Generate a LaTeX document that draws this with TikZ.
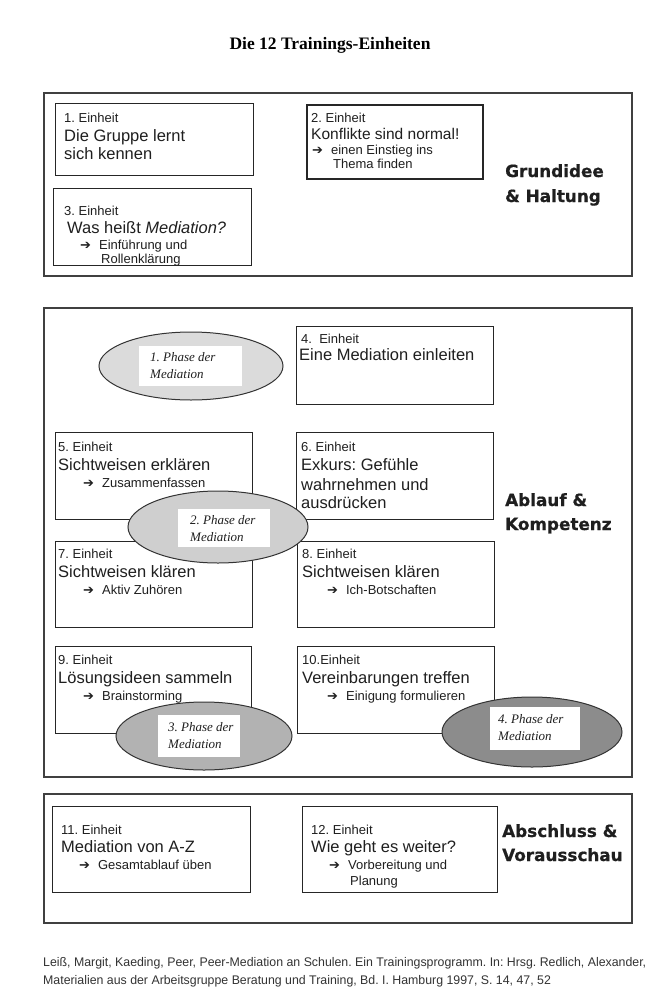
\documentclass[tikz,border=0pt]{standalone}
\usepackage{fontspec}
\usepackage{graphicx}
\setmainfont{Liberation Sans}
\newfontfamily\serifrm{Liberation Serif}
\newfontfamily\djv{DejaVu Sans}
\newfontfamily\heavy[BoldFeatures={FakeBold=0.6}]{DejaVu Sans}
\usetikzlibrary{shapes.geometric}
\frenchspacing
\newcommand\tl[4]{\node[txt,#1] (#2) at (#3) {#4};}
\newcommand\arr{{\djv\fontsize{13}{15}\selectfont ➔}\hspace{8pt}}
\tikzset{
  txt/.style={anchor=base west, inner sep=0pt, text=black!88},
  sm/.style={font=\fontsize{13}{15}\selectfont},
  bg/.style={font=\fontsize{16.5}{19}\selectfont},
  md/.style={font=\fontsize{15.5}{18}\selectfont},
  ph/.style={font=\serifrm\itshape\fontsize{13}{15}\selectfont},
  sect/.style={font=\heavy\bfseries\fontsize{16.8}{19}\selectfont},
  frame/.style={draw=black!75, line width=1.6pt, anchor=north west, inner sep=0pt},
  unitbox/.style={draw=black!85, line width=1.1pt, anchor=north west, inner sep=0pt},
  phase/.style={ellipse, draw=black!80, line width=1pt, inner sep=0pt},
  wbox/.style={fill=white, anchor=north west, inner sep=0pt},
}
\begin{document}
\begin{tikzpicture}[x=1pt,y=-1pt]
\useasboundingbox (0,0) rectangle (659,999);
\fill[white] (0,0) rectangle (659,999);

\node[font=\serifrm\bfseries\fontsize{17.5}{20}\selectfont] (title) at (330,45) {Die 12 Trainings-Einheiten};

% ---------- Section 1 ----------
\node[frame, minimum width=588pt, minimum height=183pt] (s1) at (43,92) {};
\node[unitbox, minimum width=198pt, minimum height=72pt] (b1) at (55,103) {};
\tl{sm}{b1a}{64,122}{1. Einheit}
\tl{bg}{b1b}{64,141}{Die Gruppe lernt}
\tl{bg}{b1c}{64,159}{sich kennen}

\node[unitbox, minimum width=198pt, minimum height=77pt] (b3) at (53,188) {};
\tl{sm}{b3a}{64,215}{3. Einheit}
\tl{bg}{b3b}{67,233}{Was heißt \textit{Mediation?}}
\tl{sm}{b3c}{80,249}{\arr Einführung und}
\tl{sm}{b3d}{101,263}{Rollenklärung}

\node[unitbox, line width=2.2pt, minimum width=176pt, minimum height=74pt] (b2) at (306,104) {};
\tl{sm}{b2a}{311,122}{2. Einheit}
\tl{md}{b2b}{311,139}{Konflikte sind normal!}
\tl{sm}{b2c}{312,154}{\arr einen Einstieg ins}
\tl{sm}{b2d}{333,168}{Thema finden}

\tl{sect}{l1a}{505,177}{Grundidee}
\tl{sect}{l1b}{505,202}{\& Haltung}

% ---------- Section 2 ----------
\node[frame, minimum width=588pt, minimum height=469pt] (s2) at (43,307) {};

\node[unitbox, minimum width=197pt, minimum height=78pt] (b4) at (296,326) {};
\tl{sm}{b4a}{301,343}{4.\ \ Einheit}
\tl{bg}{b4b}{299,360}{Eine Mediation einleiten}

\node[unitbox, minimum width=197pt, minimum height=87pt] (b5) at (55,432) {};
\tl{sm}{b5a}{58,451}{5. Einheit}
\tl{bg}{b5b}{58,470}{Sichtweisen erklären}
\tl{sm}{b5c}{83,487}{\arr Zusammenfassen}

\node[unitbox, minimum width=197pt, minimum height=87pt] (b6) at (296,432) {};
\tl{sm}{b6a}{301,451}{6. Einheit}
\tl{bg}{b6b}{301,470}{Exkurs: Gefühle}
\tl{bg}{b6c}{301,490}{wahrnehmen und}
\tl{bg}{b6d}{301,508}{ausdrücken}

\node[unitbox, minimum width=197pt, minimum height=86pt] (b7) at (55,541) {};
\tl{sm}{b7a}{58,558}{7. Einheit}
\tl{bg}{b7b}{58,577}{Sichtweisen klären}
\tl{sm}{b7c}{83,594}{\arr Aktiv Zuhören}

\node[unitbox, minimum width=197pt, minimum height=86pt] (b8) at (297,541) {};
\tl{sm}{b8a}{302,558}{8. Einheit}
\tl{bg}{b8b}{302,577}{Sichtweisen klären}
\tl{sm}{b8c}{327,594}{\arr Ich-Botschaften}

\node[unitbox, minimum width=196pt, minimum height=87pt] (b9) at (55,646) {};
\tl{sm}{b9a}{58,664}{9. Einheit}
\tl{bg}{b9b}{58,683}{Lösungsideen sammeln}
\tl{sm}{b9c}{83,700}{\arr Brainstorming}

\node[unitbox, minimum width=197pt, minimum height=87pt] (b10) at (297,646) {};
\tl{sm}{b10a}{302,664}{10.Einheit}
\tl{bg}{b10b}{302,683}{Vereinbarungen treffen}
\tl{sm}{b10c}{327,700}{\arr Einigung formulieren}

\tl{sect}{l2a}{505,506}{Ablauf \&}
\tl{sect}{l2b}{505,530}{Kompetenz}

% phases
\node[phase, fill=black!14, minimum width=184pt, minimum height=68pt] (e1) at (191,366) {};
\node[wbox, minimum width=103pt, minimum height=40pt] (w1) at (139,346) {};
\tl{ph}{p1a}{150,361}{1. Phase der}
\tl{ph}{p1b}{150,378}{Mediation}

\node[phase, fill=black!19, minimum width=180pt, minimum height=72pt] (e2) at (218,527) {};
\node[wbox, minimum width=92pt, minimum height=38pt] (w2) at (178,509) {};
\tl{ph}{p2a}{190,524}{2. Phase der}
\tl{ph}{p2b}{190,541}{Mediation}

\node[phase, fill=black!30, minimum width=176pt, minimum height=68pt] (e3) at (204,736) {};
\node[wbox, minimum width=82pt, minimum height=42pt] (w3) at (158,715) {};
\tl{ph}{p3a}{168,731}{3. Phase der}
\tl{ph}{p3b}{168,748}{Mediation}

\node[phase, fill=black!45, minimum width=180pt, minimum height=70pt] (e4) at (532,732) {};
\node[wbox, minimum width=90pt, minimum height=43pt] (w4) at (490,707) {};
\tl{ph}{p4a}{498,723}{4. Phase der}
\tl{ph}{p4b}{498,740}{Mediation}

% ---------- Section 3 ----------
\node[frame, minimum width=588pt, minimum height=129pt] (s3) at (43,793) {};

\node[unitbox, minimum width=198pt, minimum height=86pt] (b11) at (52,806) {};
\tl{sm}{b11a}{61,834}{11. Einheit}
\tl{bg}{b11b}{61,852}{Mediation von A-Z}
\tl{sm}{b11c}{79,869}{\arr Gesamtablauf üben}

\node[unitbox, minimum width=195pt, minimum height=86pt] (b12) at (302,806) {};
\tl{sm}{b12a}{311,834}{12. Einheit}
\tl{bg}{b12b}{311,852}{Wie geht es weiter?}
\tl{sm}{b12c}{329,869}{\arr Vorbereitung und}
\tl{sm}{b12d}{350,885}{Planung}

\tl{sect}{l3a}{502,837}{Abschluss \&}
\tl{sect}{l3b}{502,861}{Vorausschau}

% ---------- Footer ----------
\node[anchor=base west, inner sep=0pt, text=black!80] (foot) at (43,966) {\resizebox{603pt}{\height}{\fontsize{12.5}{18}\selectfont\begin{tabular}[t]{@{}l@{}}Leiß, Margit, Kaeding, Peer, Peer-Mediation an Schulen. Ein Trainingsprogramm. In: Hrsg. Redlich, Alexander,\\Materialien aus der Arbeitsgruppe Beratung und Training, Bd. I. Hamburg 1997, S. 14, 47, 52\end{tabular}}};
\end{tikzpicture}
\end{document}
